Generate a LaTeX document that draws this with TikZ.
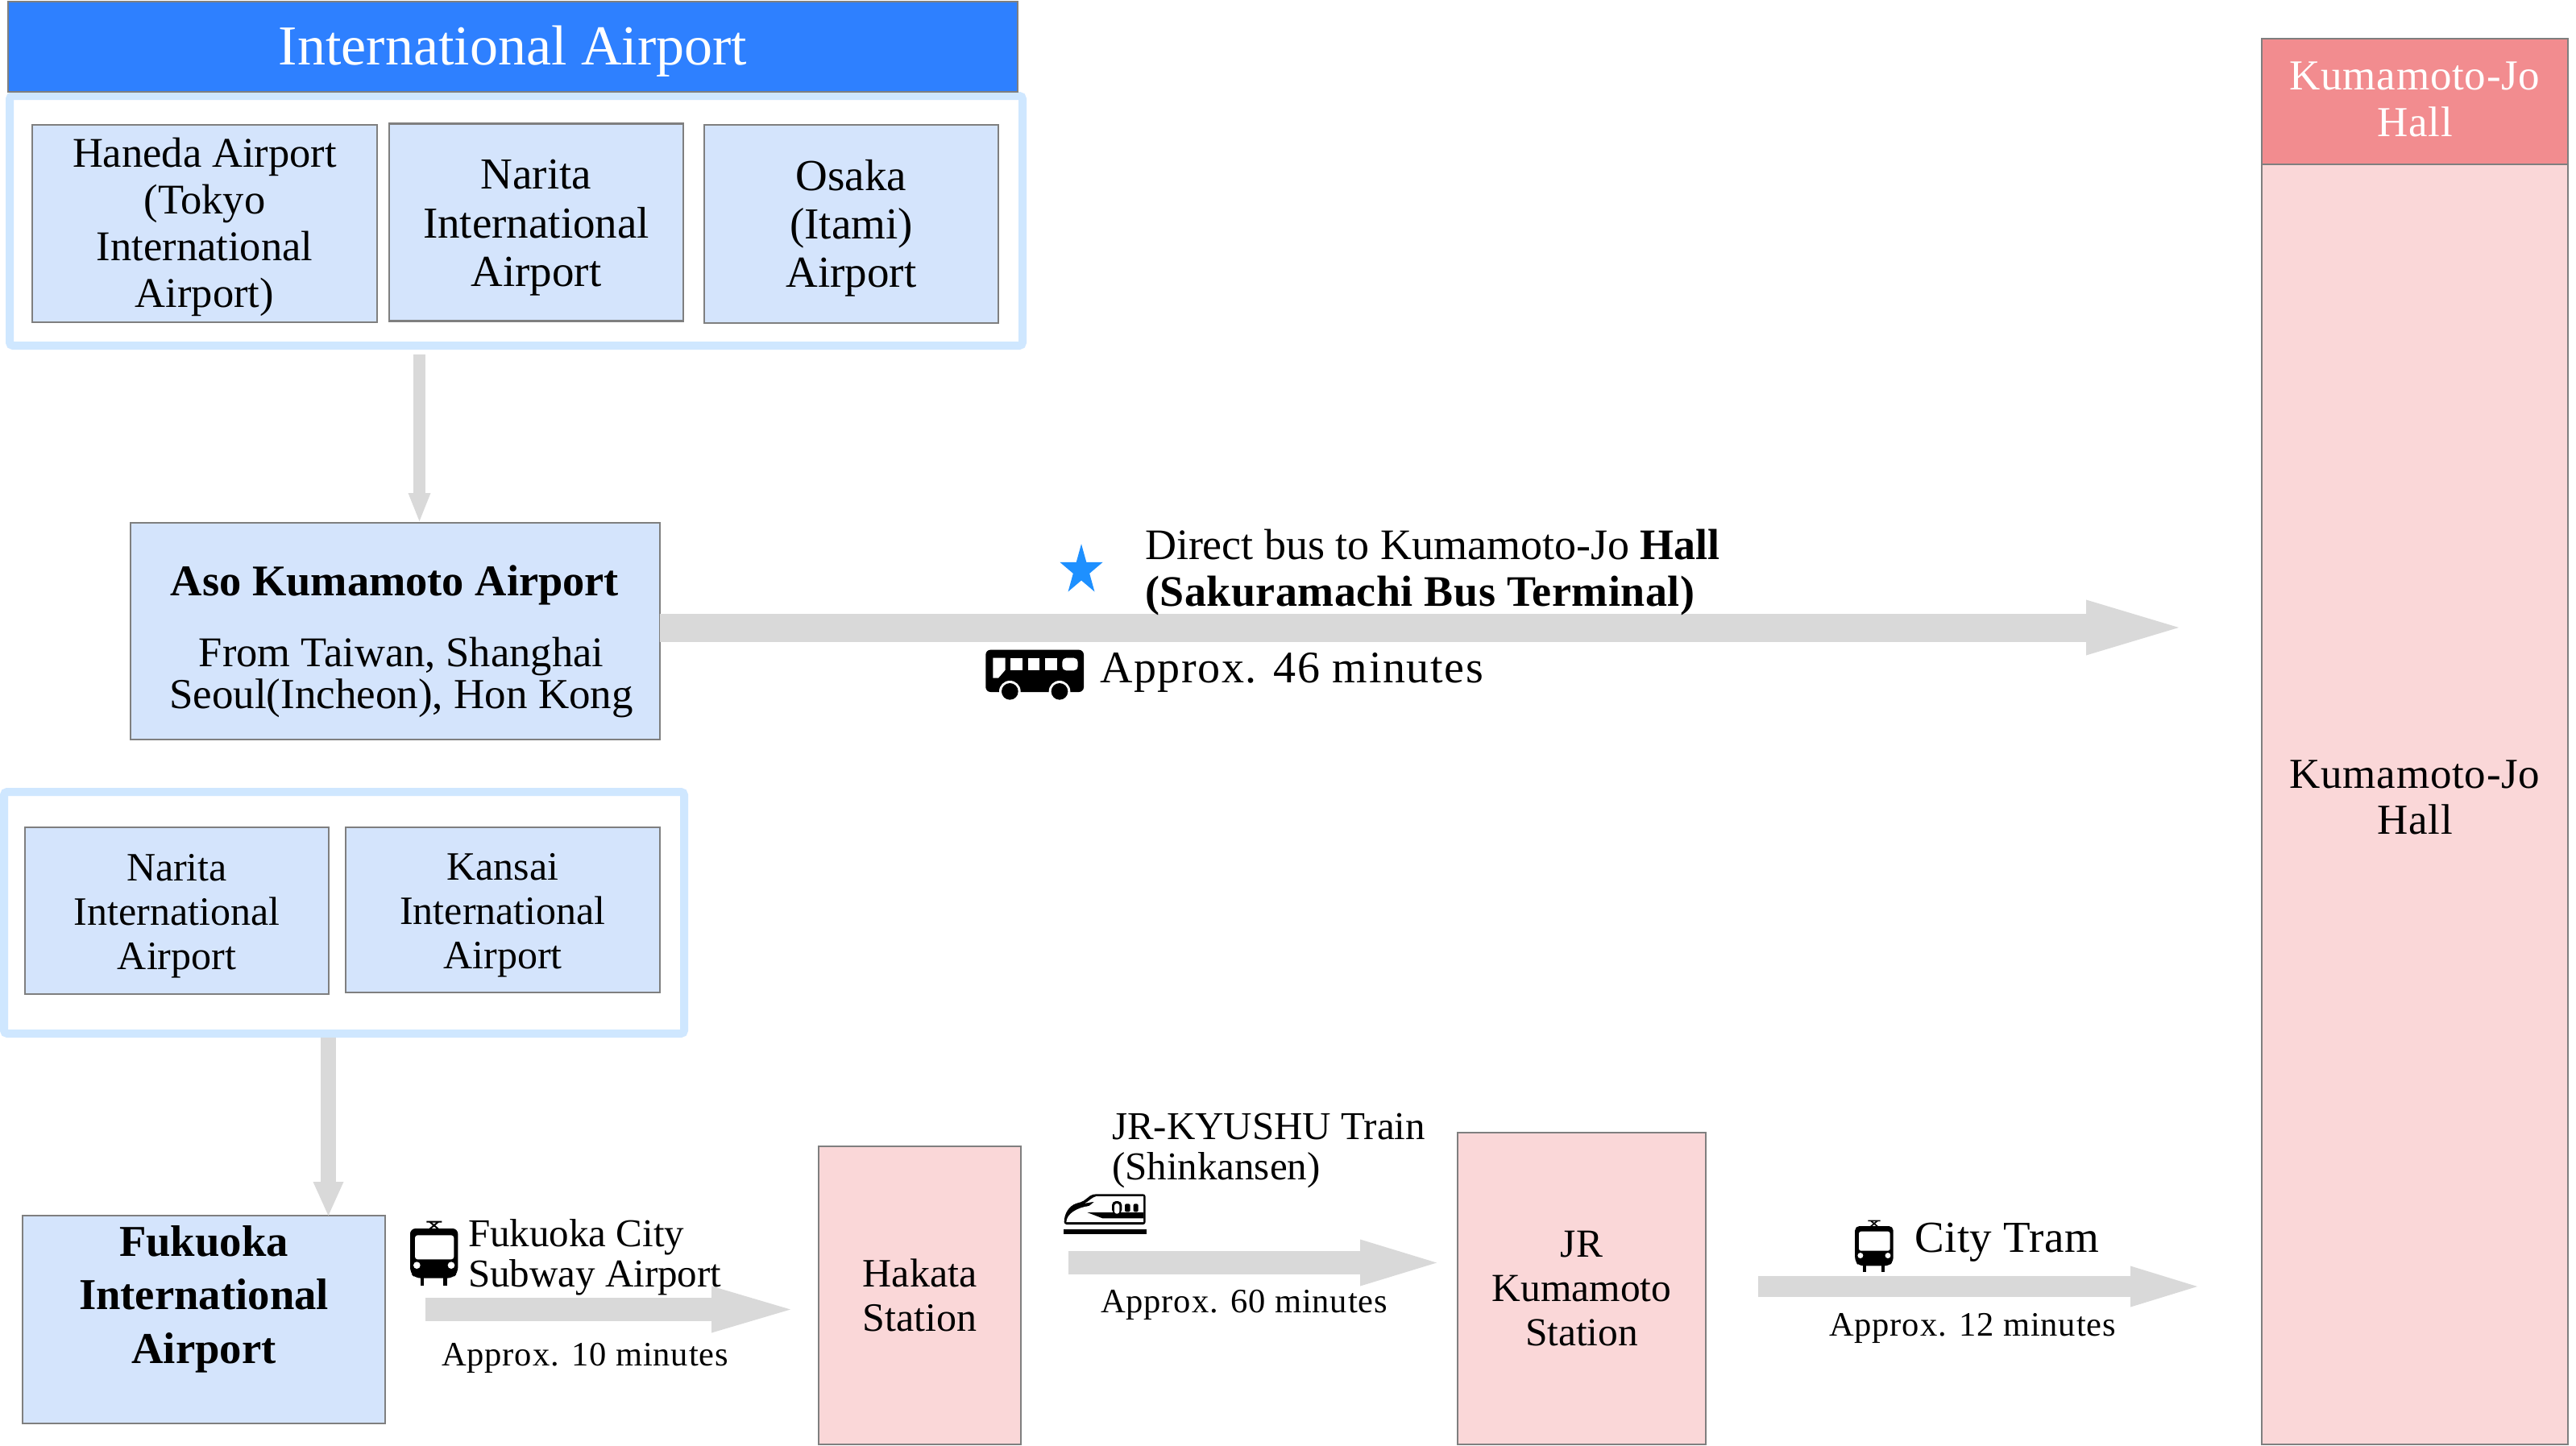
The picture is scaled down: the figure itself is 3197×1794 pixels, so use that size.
\documentclass[tikz,border=0pt]{standalone}
\usepackage{fontspec}
\setmainfont{Liberation Serif}
\usetikzlibrary{arrows.meta,calc,shapes.geometric}
\definecolor{boxblue}{HTML}{D4E4FC}
\definecolor{titleblue}{HTML}{2E80FF}
\definecolor{framecol}{HTML}{CFE7FF}
\definecolor{boxline}{HTML}{7F7F7F}
\definecolor{arrowcol}{HTML}{D9D9D9}
\definecolor{pinkbox}{HTML}{FAD7D8}
\definecolor{pinkhead}{HTML}{F28C8F}
\definecolor{starblue}{HTML}{1E90FF}
\newcommand{\fsz}[2]{\fontsize{#1}{#2}\selectfont}
\newcommand{\spaced}[1]{\addfontfeature{LetterSpace=#1}}
\newcommand{\tall}[1]{\rule{0pt}{#1}}
\tikzset{
  x=1pt,y=-1pt,
  boxbase/.style={draw=boxline,line width=2.5pt,inner sep=0pt,outer sep=0pt,anchor=north west,align=center},
  bluebox/.style={boxbase,fill=boxblue},
  pinkrect/.style={boxbase,fill=pinkbox},
  framebox/.style={draw=framecol,line width=10pt,rounded corners=4pt,inner sep=0pt,outer sep=0pt,anchor=north west,fill=white},
  lbl/.style={inner sep=0pt,outer sep=0pt,anchor=base west,align=left},
  flow/.style n args={3}{draw=arrowcol,line width=#1,-{Triangle[length=#2,width=#3,line width=0pt,sep=0pt]},arrowcol},
}
\begin{document}
\begin{tikzpicture}
\useasboundingbox (0,0) rectangle (3197,1794);
\fill[white] (0,0) rectangle (3197,1794);

% top group
\node[framebox,minimum width=1257pt,minimum height=310pt] (frameA) at (12,119) {};
\node[boxbase,fill=titleblue,text=white,minimum width=1253pt,minimum height=112pt,font=\fsz{70}{80}] (title) at (10,2) {\tall{60pt}International Airport};
\node[bluebox,minimum width=428pt,minimum height=245pt,font=\fsz{52.5}{58}] (haneda) at (40,155) {\tall{46pt}Haneda Airport\\(Tokyo\\International\\Airport)};
\node[bluebox,minimum width=365pt,minimum height=245pt,font=\fsz{55}{60.5}] (narita) at (483,153.5) {\tall{50pt}Narita\\International\\Airport};
\node[bluebox,minimum width=365pt,minimum height=246pt,font=\fsz{55}{60}] (osaka) at (874,155) {\tall{49pt}Osaka\\(Itami)\\Airport};

% Aso
\node[bluebox,minimum width=657pt,minimum height=269pt] (aso) at (162,649) {};
\node[lbl,anchor=base,font=\fsz{54.4}{60}\bfseries] (asoh) at (490,739) {Aso Kumamoto Airport};
\node[lbl,anchor=base,font=\fsz{52.5}{60}] (asoa) at (498,827) {From Taiwan, Shanghai};
\node[lbl,anchor=base,font=\fsz{53}{60}] (asob) at (498,879) {Seoul(Incheon), Hon Kong};

% second group
\node[framebox,minimum width=844pt,minimum height=300pt] (frameB) at (5,983) {};
\node[bluebox,minimum width=377pt,minimum height=207pt,font=\fsz{50}{55}] (narita2) at (31,1027) {\tall{46pt}Narita\\International\\Airport};
\node[bluebox,minimum width=390pt,minimum height=205pt,font=\fsz{50}{55}] (kansai) at (429,1027) {\tall{46pt}Kansai\\International\\Airport};

% bottom row
\node[bluebox,minimum width=450pt,minimum height=258pt,font=\fsz{54.7}{66.5}\bfseries] (fukuoka) at (28,1509) {Fukuoka\\International\\Airport\\[-4pt]\mbox{}};
\node[pinkrect,minimum width=251pt,minimum height=370pt,font=\fsz{50}{55}] (hakata) at (1016,1423) {Hakata\\Station};
\node[pinkrect,minimum width=308pt,minimum height=387pt,font=\fsz{49.4}{55}] (jr) at (1809,1406) {JR\\Kumamoto\\Station};

% hall
\node[boxbase,fill=pinkhead,text=white,minimum width=380pt,minimum height=156pt,font=\fsz{53}{58}\spaced{1.4}] (hallhead) at (2807,48) {Kumamoto-Jo\\Hall\\[-52pt]\mbox{}};
\node[pinkrect,minimum width=380pt,minimum height=1589pt,font=\fsz{53}{57}\spaced{1.4}] (hall) at (2807,204) {Kumamoto-Jo\\Hall\\[-39pt]\mbox{}};

% connectors
\coordinate (c1) at (520.5,0);
\coordinate (c2) at (407.5,0);
\coordinate (m) at (0,779);
\coordinate (c3) at (0,1625.5);
\coordinate (c4) at (0,1567.5);
\coordinate (c5) at (0,1597);
\draw[flow={15pt}{35pt}{28pt},shorten <=11pt,shorten >=2pt] (frameA.south -| c1) -- (aso.north -| c1);
\draw[flow={19pt}{42pt}{38pt},shorten <=5pt] (frameB.south -| c2) -- (fukuoka.north -| c2);
\draw[flow={35pt}{115pt}{69pt},shorten >=103pt] (aso.east |- m) -- (hall.west |- m);
\draw[flow={29pt}{98pt}{58pt},shorten <=50pt,shorten >=35pt] (fukuoka.east |- c3) -- (hakata.west |- c3);
\draw[flow={29pt}{95pt}{58pt},shorten <=59pt,shorten >=26pt] (hakata.east |- c4) -- (jr.west |- c4);
\draw[flow={26pt}{83pt}{51pt},shorten <=65pt,shorten >=80pt] (jr.east |- c5) -- (hall.west |- c5);

% star
\node[star,star points=5,star point ratio=2.618,fill=starblue,inner sep=0pt,outer sep=0pt,minimum size=56pt,yscale=1.17] (starA) at (1342,708) {};

% labels
\node[lbl,font=\fsz{54}{58}] (direct) at (1421,694) {Direct bus to Kumamoto-Jo \textbf{Hall}};
\node[lbl,font=\fsz{54}{58}\bfseries\spaced{1}] (saku) at (1421,752) {(Sakuramachi Bus Terminal)};
\node[lbl,font=\fsz{56}{60}\spaced{2.9}] (t46) at (1365,847) {Approx. 46 minutes};
\node[lbl,font=\fsz{49}{50}] (fc1) at (581,1547) {Fukuoka City};
\node[lbl,font=\fsz{49}{50}] (fc2) at (581,1597) {Subway Airport};
\node[lbl,font=\fsz{42.5}{50}\spaced{2.1}] (t10) at (548,1695) {Approx. 10 minutes};
\node[lbl,font=\fsz{49}{50}] (jr1) at (1380,1414) {JR-KYUSHU Train};
\node[lbl,font=\fsz{49}{50}] (jr2) at (1380,1464) {(Shinkansen)};
\node[lbl,font=\fsz{42.5}{50}\spaced{2.1}] (t60) at (1366,1629) {Approx. 60 minutes};
\node[lbl,font=\fsz{55}{60}\spaced{1}] (tram) at (2376,1554) {City Tram};
\node[lbl,font=\fsz{42.5}{50}\spaced{2.1}] (t12) at (2270,1658) {Approx. 12 minutes};

% bus icon
\begin{scope}[shift={(1215,795)},x=0.3333pt,y=-0.3333pt]
  \fill[black,rounded corners=6pt] (25,35) rectangle (390,192);
  \fill[white] (52,65) -- (98,65) -- (98,110) -- (72,140) -- (52,140) -- cycle;
  \fill[white] (118,65) rectangle (162,112);
  \fill[white] (182,65) rectangle (225,112);
  \fill[white] (246,65) rectangle (290,112);
  \fill[white,rounded corners=5pt] (310,65) rectangle (368,112);
  \fill[white] (115,190) circle (40);
  \fill[white] (300,190) circle (40);
  \fill[black] (115,190) circle (31);
  \fill[black] (300,190) circle (31);
\end{scope}

% tram icons
\foreach \ox/\oy/\sc in {500/1505/0.3333,2295/1506/0.2667}{
\begin{scope}[shift={(\ox,\oy)},x=\sc pt,y=-\sc pt]
  \draw[black,line width=\sc*6pt] (88,35) -- (145,35) (100,35) -- (132,62) (132,35) -- (100,62);
  \fill[black,rounded corners=\sc*20pt] (27,225) -- (27,60) -- (205,60) -- (205,225) -- (185,245) -- (47,245) -- cycle;
  \fill[black] (65,240) rectangle (79,272);
  \fill[black] (151,240) rectangle (165,272);
  \fill[white,rounded corners=\sc*10pt] (45,85) -- (190,85) -- (190,175) -- (45,175) -- cycle;
  \fill[white] (52,197) circle (13);
  \fill[white] (180,197) circle (13);
\end{scope}}

% shinkansen icon
\begin{scope}[shift={(1310,1475)},x=0.3333pt,y=-0.3333pt]
  \fill[black,rounded corners=3pt] (335,22) -- (148,22) .. controls (125,26) and (110,48) .. (85,54) .. controls (50,66) and (32,95) .. (32,135) -- (335,135) -- cycle;
  \fill[white] (327,30) -- (152,30) .. controls (135,34) and (125,48) .. (110,56) -- (145,50) -- (125,66) .. controls (80,72) and (42,95) .. (40,126) -- (327,126) -- cycle;
  \fill[black] (118,90) -- (327,90) -- (327,112) -- (175,112) -- cycle;
  \fill[black,rounded corners=5pt] (210,95) -- (210,48) -- (247,48) -- (247,95) -- cycle;
  \fill[white,rounded corners=3pt] (219,95) -- (219,57) -- (238,57) -- (238,95) -- cycle;
  \fill[black,rounded corners=2pt] (258,58) rectangle (278,88);
  \fill[black,rounded corners=2pt] (290,58) rectangle (308,88);
  \fill[black] (30,152) rectangle (338,170);
\end{scope}
\end{tikzpicture}
\end{document}
